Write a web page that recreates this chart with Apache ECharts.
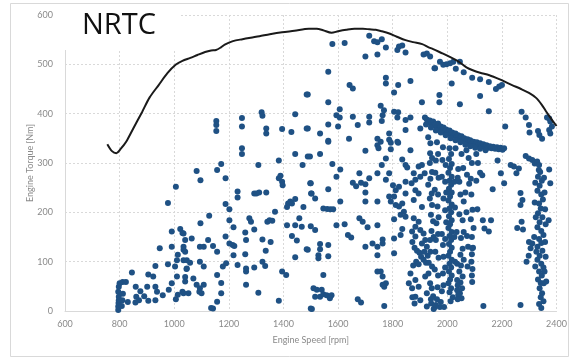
<!DOCTYPE html>
<html>
<head>
<meta charset="utf-8">
<script src="https://cdn.jsdelivr.net/npm/echarts@6/dist/echarts.min.js"></script>
<style>
  html, body { margin: 0; padding: 0; background: #fff; }
  #chart { width: 570px; height: 358px; }
</style>
</head>
<body>
<div id="chart"></div>
<script>
// Cycle name shown in the corner box
const cycleName = 'NRTC';

// Axis titles and ranges
const speedTitle = 'Engine Speed [rpm]';
const torqueTitle = 'Engine Torque [Nm]';
const speedRange = [600, 2400, 200];
const torqueRange = [0, 600, 100];

// Full-load torque curve [rpm, Nm]
const fullLoadCurve = [
  [755,338],[772,324],[788,320],[803,328],[824,343],[850,370],[882,403],[910,433],
  [943,458],[975,482],[1005,499],[1030,507],[1059,513],[1085,519],[1113,525],[1135,528],
  [1153,529],[1170,534],[1185,540],[1215,547],[1250,551],[1280,554],[1312,557],[1350,561],
  [1395,565],[1440,568],[1493,572],[1522,572],[1545,569],[1576,564],[1600,567],[1630,570],
  [1660,572],[1691,572],[1715,571],[1738,570],[1760,567],[1785,563],[1815,556],[1847,549],
  [1875,545],[1908,541],[1930,535],[1948,531],[1975,524],[2009,515],[2040,506],[2070,494],
  [2093,488],[2120,483],[2154,478],[2190,470],[2237,458],[2270,450],[2299,442],[2325,432],
  [2346,418],[2360,406],[2371,397],[2385,386],[2400,375]
];

// Operating points, low speed (780-1050 rpm)
const pointsLowSpeed = [
  [795,2],[795,9],[796,16],[797,22],[797,29],[795,39],[797,49],[800,56],[808,10],[810,22],
  [812,35],[811,59],[823,59],[830,18],[845,78],[859,49],[861,29],[871,22],[858,17],[876,40],
  [890,30],[901,49],[905,74],[905,21],[923,70],[931,91],[931,49],[937,39],[931,22],[947,127],
  [958,32],[977,95],[977,219],[980,43],[991,56],[991,130],[991,161],[1003,90],[1006,252],
  [1006,24],[1010,70],[1010,103],[1013,114],[1013,33],[1022,166],[1030,158],[1030,39],
  [1034,124],[1034,103],[1040,60],[1045,85]
];

// Operating points, 1030-1500 rpm
const pointsMidLow = [
  [1248,330],[1248,318],[1082,284],[1096,265],[1157,286],[1172,298],[1188,269],[1308,296],
  [1383,305],[1443,318],[1489,313],[1470,296],[1383,269],[1389,274],[1395,262],[1397,255],
  [1232,242],[1232,230],[1293,238],[1301,238],[1311,240],[1337,240],[1498,259],[1501,238],
  [1417,218],[1425,222],[1431,218],[1443,227],[1413,211],[1473,211],[1188,217],[1202,206],
  [1128,193],[1096,178],[1202,184],[1275,188],[1281,181],[1341,181],[1349,184],[1359,183],
  [1369,201],[1413,174],[1443,174],[1458,188],[1467,171],[1064,147],[1034,157],[1040,144],
  [1034,130],[1040,120],[1046,103],[1094,130],[1108,130],[1124,144],[1142,132],[1157,120],
  [1188,151],[1217,170],[1202,137],[1214,134],[1220,132],[1260,159],[1263,144],[1323,145],
  [1353,140],[1293,165],[1217,113],[1260,115],[1335,122],[1443,109],[1431,152],[1449,143],
  [1489,124],[1094,100],[1108,90],[1058,98],[1046,86],[1040,69],[1070,66],[1082,53],
  [1094,46],[1108,53],[1092,39],[1100,36],[1052,36],[1034,36],[1157,73],[1172,57],
  [1172,36],[1157,19],[1142,5],[1135,6],[1178,90],[1190,97],[1232,93],[1263,86],[1263,80],
  [1293,88],[1323,100],[1333,91],[1263,53],[1308,37],[1395,80],[1410,73],[1383,21],
  [1154,385],[1154,377],[1154,365],[1248,391],[1248,374],[1320,403],[1323,396],[1337,370],
  [1337,360],[1395,369],[1429,363],[1443,399],[1489,439],[1489,370]
];

// Operating points, 1480-1950 rpm
const pointsMidHigh = [
  [1564,343],[1534,318],[1497,313],[1579,298],[1608,287],[1594,272],[1500,259],[1503,238],
  [1516,228],[1564,247],[1608,222],[1546,208],[1560,207],[1572,206],[1582,206],[1654,260],
  [1666,253],[1678,279],[1684,260],[1700,257],[1700,240],[1700,222],[1714,269],[1700,325],
  [1744,336],[1748,330],[1756,343],[1793,341],[1793,328],[1820,341],[1865,326],[1937,320],
  [1775,309],[1760,296],[1744,279],[1775,266],[1787,279],[1835,307],[1847,296],[1853,291],
  [1877,279],[1895,293],[1907,296],[1883,266],[1901,272],[1917,279],[1801,255],[1811,245],
  [1823,252],[1847,262],[1787,232],[1793,222],[1805,232],[1847,238],[1744,222],[1869,259],
  [1883,245],[1895,238],[1943,238],[1811,215],[1823,212],[1835,218],[1841,201],[1829,195],
  [1847,191],[1877,188],[1883,171],[1895,181],[1871,161],[1883,151],[1901,164],[1913,157],
  [1919,144],[1907,137],[1925,130],[1937,144],[1907,211],[1877,225],[1805,186],[1835,166],
  [1829,154],[1805,147],[1763,145],[1763,137],[1744,130],[1805,117],[1744,113],[1678,188],
  [1690,181],[1708,170],[1744,174],[1700,130],[1726,137],[1594,174],[1624,176],[1500,172],
  [1516,164],[1636,154],[1648,149],[1534,136],[1534,125],[1564,134],[1485,125],[1564,111],
  [1528,113],[1528,107],[1865,76],[1859,56],[1871,46],[1883,29],[1901,22],[1883,63],
  [1895,49],[1919,70],[1931,76],[1937,56],[1925,36],[1943,46],[1941,15],[1925,9],
  [1744,80],[1756,80],[1763,70],[1775,56],[1769,49],[1769,10],[1763,53],[1546,73],
  [1510,46],[1522,43],[1540,43],[1534,29],[1546,34],[1558,32],[1576,32],[1570,26],
  [1516,29],[1500,5],[1504,4],[1672,24],[1684,17],[1872,28],[1880,15],[1955,8],[1973,8],
  [1872,140],[1880,128],[1889,122],[1898,118],[1904,110],[1913,104],[1922,98],[1916,120],
  [1928,112],[1886,100],[1875,92],[1895,95],
  [1579,541],[1624,543],[1714,558],[1732,547],[1744,545],[1760,551],[1775,534],[1700,516],
  [1744,520],[1823,536],[1817,529],[1835,538],[1847,524],[1913,520],[1925,522],[1953,492],
  [1564,485],[1775,473],[1775,461],[1642,458],[1654,451],[1820,458],[1865,466],[1805,443],
  [1485,439],[1564,423],[1606,409],[1907,423],[1756,416],[1768,407],[1763,397],[1760,385],
  [1805,404],[1820,403],[1817,392],[1654,394],[1594,397],[1606,392],[1714,394],[1714,382],
  [1847,387],[1865,392],[1564,378],[1600,374],[1672,377],[1787,360],[1485,370],[1534,360],
  [1847,367],[1901,370],[1564,345],[1640,349],[1744,349],[1787,347],[1817,343]
];

// Operating points along the upper boundary, 1930-2390 rpm
const pointsUpper = [
  [1937,516],[1955,492],[1973,505],[1985,499],[1997,500],[2010,502],[2022,505],[2046,505],
  [2031,491],[2060,484],[2091,473],[2120,470],[2152,464],[2178,450],[2190,455],[2200,458],
  [2016,461],[1971,438],[1971,423],[2046,419],[2120,436],[2152,405],[2272,404],[2287,392],
  [2212,374],[2299,377],[2301,362],[2332,365],[2337,357],[2347,349],[2365,392],[2373,390],
  [2377,384],[2383,374],[2373,367],[2377,360]
];

// Diagonal band of operating points, 1920-2210 rpm
const pointsBand = [
  [1918,392],[1925,388],[1930,382],[1936,386],[1942,380],[1948,384],[1950,376],[1956,378],
  [1962,374],[1966,380],[1970,370],[1976,374],[1982,368],[1986,372],[1992,364],[1996,368],
  [2002,362],[2008,366],[2012,358],[2018,362],[2024,356],[2030,360],[2034,352],[2040,356],
  [2046,350],[2052,354],[2056,347],[2062,350],[2068,344],[2074,348],[2078,342],[2084,346],
  [2090,340],[2096,343],[2102,338],[2108,342],[2114,337],[2120,340],[2126,335],[2132,338],
  [2138,333],[2144,336],[2150,331],[2156,334],[2162,330],[2168,333],[2175,329],[2182,332],
  [2188,328],[2195,331],[2202,327],[2208,330],
  [1922,378],[1940,372],[1958,366],[1976,362],[1994,356],[2012,350],[2030,346],[2048,342],
  [2066,337],[2084,334],[2102,331],[2120,329],[2140,326]
];

// Dense operating region, 1930-2110 rpm
const pointsDense = [
  [1930,352],[1938,340],[1944,310],[1936,300],[1944,282],[1938,268],
  [1930,256],[1936,228],[1944,215],[1940,195],[1948,182],
  [1942,162],[1950,150],[1938,120],[1932,98],[1944,90],[1948,30],
  [1940,24],[1950,4],
  [1962,342],[1966,318],[1958,305],[1956,280],[1968,270],
  [1954,246],[1966,236],[1964,212],[1968,190],[1960,178],
  [1966,156],[1958,144],[1956,120],[1968,108],[1954,84],
  [1966,72],[1964,48],[1962,24],[1958,12],
  [1984,332],[1982,306],[1994,296],[1980,272],[1992,262],
  [1996,240],[1986,228],[1992,204],[1996,180],[1980,156],
  [1992,146],[1984,134],[1986,110],[1992,88],[1984,76],
  [1986,52],[1980,40],[1976,18],[1988,8],
  [2008,330],[2014,318],[2006,308],[2016,298],[2010,290],[2004,280],[2016,272],[2008,264],
  [2014,256],[2006,248],[2016,240],[2010,232],[2004,224],[2016,216],[2008,208],[2014,200],
  [2006,192],[2016,184],[2010,176],[2004,168],[2016,160],[2008,152],[2014,144],[2006,136],
  [2016,128],[2010,120],[2004,112],[2016,104],[2008,96],[2014,88],[2006,80],[2016,72],
  [2010,64],[2004,56],[2014,46],[2008,38],[2020,28],[2012,20],
  [2026,262],[2028,210],[2026,150],[2028,100],
  [2052,318],[2058,290],[2044,262],[2048,236],[2060,222],
  [2044,196],[2056,184],[2060,160],[2050,148],[2056,126],
  [2048,114],[2060,104],[2050,92],[2044,80],[2056,70],[2048,58],[2054,46],[2046,36],
  [2052,26],[2036,63],[2038,52],[2036,42],[2040,33],[2038,24],
  [2090,300],[2086,268],[2088,236],[2092,205],[2086,186],
  [2096,168],[2090,150],[2094,128],[2090,115],[2088,100],[2092,85],[2090,72],
  [2091,59],
  [2030,330],[2040,288],[2070,326],[2078,310],[2072,276],[2080,258],
  [2066,240],[2106,318],[2112,300],[2070,200],[2038,270],
  [2072,152],[2076,130],[2034,160],[2036,96],[2074,90],[2106,264],
  [2110,206]
];

// Operating points, 2110-2390 rpm
const pointsHighSpeed = [
  [2130,184],[2160,184],[2136,167],[2152,161],[2166,247],[2120,280],[2128,275],[2091,127],
  [2132,10],[2184,305],[2196,279],[2208,259],[2232,296],[2244,293],[2262,289],[2253,279],
  [2268,239],[2275,225],[2268,215],[2256,168],[2272,181],[2277,165],[2287,314],[2299,309],
  [2311,306],[2320,299],[2329,303],[2335,286],[2268,12],[2299,140],[2305,127],[2311,137],
  [2298,112],[2290,100],
  [2336,296],[2340,282],[2332,272],[2346,264],[2338,254],[2330,244],[2344,236],[2350,226],
  [2336,218],[2342,208],[2332,198],[2348,190],[2338,180],[2330,170],[2344,162],[2352,154],
  [2336,146],[2344,138],[2330,130],[2348,122],[2338,112],[2330,104],[2344,96],[2352,88],
  [2336,80],[2346,72],[2332,64],[2342,57],[2353,56],[2338,46],[2347,36],[2342,28],
  [2352,20],[2336,14],[2344,6],
  [2354,270],[2356,240],[2358,206],[2360,176],[2358,140],[2360,110],[2356,80],[2362,60],
  [2322,260],[2320,220],[2324,190],[2318,150],[2326,120],[2322,90],
  [2373,287],[2377,259],[2371,184]
];

const operatingPoints = [].concat(
  pointsLowSpeed, pointsMidLow, pointsMidHigh, pointsUpper,
  pointsBand, pointsDense, pointsHighSpeed
);

const chart = echarts.init(document.getElementById('chart'), null, { renderer: 'canvas' });

const labelFont = { color: '#8a8a8a', fontSize: 9, fontFamily: 'Lato, "Open Sans", sans-serif' };
const gridLine = { show: true, lineStyle: { color: '#d9d9d9', type: [2, 2], width: 1 } };
const plainNumber = (v) => String(v);

chart.setOption({
  animation: false,
  backgroundColor: '#ffffff',
  grid: { left: 65, right: 7, top: 15, bottom: 47, containLabel: false },
  xAxis: {
    type: 'value',
    min: speedRange[0], max: speedRange[1], interval: speedRange[2],
    name: speedTitle,
    nameLocation: 'middle',
    nameGap: 25,
    nameMoveOverlap: false,
    nameTextStyle: labelFont,
    axisLine: { show: true, lineStyle: { color: '#d9d9d9', width: 1 } },
    axisTick: { show: false },
    axisLabel: Object.assign({ margin: 9, formatter: plainNumber }, labelFont),
    splitLine: gridLine
  },
  yAxis: {
    type: 'value',
    min: torqueRange[0], max: torqueRange[1], interval: torqueRange[2],
    name: torqueTitle,
    nameLocation: 'middle',
    nameGap: 30,
    nameMoveOverlap: false,
    nameTextStyle: labelFont,
    axisLine: { show: true, lineStyle: { color: '#d9d9d9', width: 1 } },
    axisTick: { show: false },
    axisLabel: Object.assign({ margin: 12, formatter: plainNumber }, labelFont),
    splitLine: gridLine
  },
  graphic: [
    {
      type: 'rect', z: 100,
      shape: { x: 10.5, y: 3.5, width: 558, height: 353 },
      style: { fill: 'none', stroke: '#d9d9d9', lineWidth: 1 }
    },
    {
      type: 'rect', z: 100,
      shape: { x: 58, y: 4, width: 123, height: 46 },
      style: { fill: '#ffffff' }
    },
    {
      type: 'text', z: 101,
      left: 82, top: 11,
      style: { text: cycleName, fill: '#111111', font: '29px "Open Sans", sans-serif' }
    }
  ],
  series: [
    {
      type: 'scatter',
      data: operatingPoints,
      symbol: 'circle',
      symbolSize: 6,
      itemStyle: { color: '#1f5184', opacity: 1 },
      z: 2
    },
    {
      type: 'line',
      data: fullLoadCurve,
      showSymbol: false,
      smooth: 0.3,
      lineStyle: { color: '#1a1a1a', width: 2 },
      z: 3
    }
  ]
});
</script>
</body>
</html>
